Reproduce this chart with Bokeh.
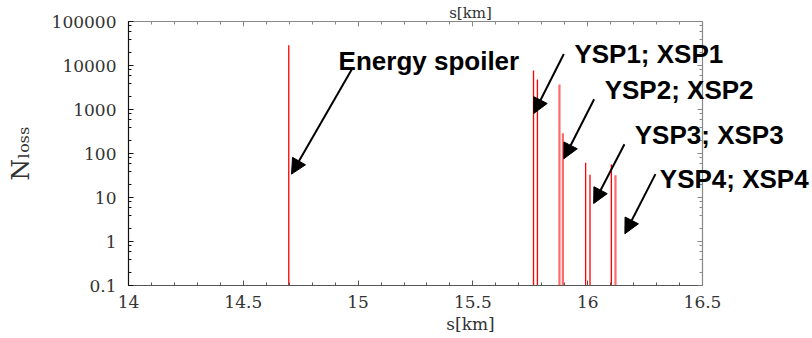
from bokeh.embed import file_html
from bokeh.models import (Arrow, CustomJSTickFormatter, Label, LinearAxis, LogAxis,
                          LogTicker, NormalHead, Range1d, SingleIntervalTicker)
from bokeh.plotting import figure
from bokeh.resources import INLINE

# Beam losses along the line (s in km, losses per element)
red_s = [14.698, 15.764, 15.781, 15.991, 16.010, 16.103]
red_loss = [29000, 7700, 4800, 62, 33, 56]
light_s = [15.877, 15.892, 16.121]
light_loss = [3700, 290, 32]

# Callouts: text anchor, arrow start and arrow tip (data coordinates)
callout_text = ["Energy spoiler", "YSP1; XSP1", "YSP2; XSP2", "YSP3; XSP3", "YSP4; XSP4"]
callout_s = [14.915, 15.942, 16.074, 16.205, 16.314]
callout_n = [12500, 18000, 2735, 268, 26]
arrow_from_s = [14.974, 15.896, 16.028, 16.160, 16.295]
arrow_from_n = [8390, 18300, 1713, 162, 34]
arrow_to_s = [14.710, 15.765, 15.896, 16.026, 16.162]
arrow_to_n = [34, 811, 76, 7.3, 1.5]

s_min, s_max = 14.0, 16.5
n_min, n_max = 0.1, 1e5
x_ticks_interval = 0.5
serif = "DejaVu Serif"
sans = "Liberation Sans"

# The frame runs to the right edge of the canvas so the callout texts can
# spill past the right axis; the right axis itself sits at s_max.
W, H = 812, 338
left_b, right_gap, top_b, bottom_b = 128, 110, 19, 53
axis_px = W - left_b - right_gap
s_view_end = s_min + (s_max - s_min) * (W - left_b) / axis_px

p = figure(width=W, height=H, y_axis_type="log",
           x_range=Range1d(s_min, s_view_end), y_range=Range1d(n_min, n_max),
           output_backend="svg", toolbar_location=None,
           min_border_left=left_b, min_border_right=0,
           min_border_top=top_b, min_border_bottom=bottom_b)
p.outline_line_color = None
p.grid.visible = False
p.background_fill_color = "white"
p.border_fill_color = "white"


def style_axis(ax, col):
    ax.axis_line_color = col
    ax.major_tick_line_color = col
    ax.minor_tick_line_color = col
    ax.axis_line_width = 1.2
    ax.major_tick_in = 5
    ax.major_tick_out = 0
    ax.minor_tick_in = 3
    ax.minor_tick_out = 0


# bottom axis
xa = p.xaxis[0]
xa.bounds = (s_min, s_max)
xa.ticker = SingleIntervalTicker(interval=x_ticks_interval, num_minor_ticks=5)
xa.formatter = CustomJSTickFormatter(code="return (Math.round(tick*10)/10).toString();")
xa.axis_label = "s[km]"
xa.axis_label_standoff = 3
# left axis
ya = p.yaxis[0]
ya.ticker = LogTicker()
ya.formatter = CustomJSTickFormatter(
    code="return tick < 1 ? tick.toFixed(1) : Math.round(tick).toString();")
ya.axis_label = "N\u2097\u2092\u209b\u209b"
ya.axis_label_standoff = 14

for ax, col in ((xa, "#555555"), (ya, "#111111")):
    style_axis(ax, col)
    ax.major_label_text_font = serif
    ax.major_label_text_font_size = "17px"
    ax.major_label_text_color = "#333333"
    ax.axis_label_text_font = serif
    ax.axis_label_text_font_style = "normal"
    ax.axis_label_text_font_size = "17px"
    ax.axis_label_text_color = "#333333"
xa.major_label_standoff = 10
ya.major_label_standoff = 12
ya.axis_label_text_font_size = "25px"

# mirrored top axis (with the repeated s title) and right axis pinned at s_max
top = LinearAxis(ticker=SingleIntervalTicker(interval=x_ticks_interval, num_minor_ticks=5),
                 formatter=CustomJSTickFormatter(code="return '';"),
                 bounds=(s_min, s_max), axis_label="s[km]")
style_axis(top, "#888888")
top.major_label_text_font_size = "1px"
top.major_label_standoff = 0
top.axis_label_standoff = 0
top.axis_label_text_font = serif
top.axis_label_text_font_style = "normal"
top.axis_label_text_font_size = "15px"
top.axis_label_text_color = "#333333"
p.add_layout(top, "above")

right = LogAxis(ticker=LogTicker(), formatter=CustomJSTickFormatter(code="return '';"),
                fixed_location=s_max)
style_axis(right, "#888888")
right.major_label_text_font_size = "1px"
right.major_label_standoff = 0
p.add_layout(right, "right")

# loss lines
p.segment(x0=red_s, y0=[n_min] * len(red_s), x1=red_s, y1=red_loss,
          line_color="#ff0000", line_width=1.3)
p.segment(x0=light_s, y0=[n_min] * len(light_s), x1=light_s, y1=light_loss,
          line_color="#ff6a6a", line_width=2.2)

# callouts
for t, cs, cn, fs, fn, ts, tn in zip(callout_text, callout_s, callout_n,
                                     arrow_from_s, arrow_from_n, arrow_to_s, arrow_to_n):
    p.add_layout(Arrow(x_start=fs, y_start=fn, x_end=ts, y_end=tn,
                       line_color="black", line_width=2,
                       end=NormalHead(size=15, fill_color="black", line_color="black")))
    p.add_layout(Label(x=cs, y=cn, text=t, text_font=sans, text_font_style="bold",
                       text_font_size="26px", text_color="black",
                       text_align="left", text_baseline="alphabetic"))

open("out.html", "w").write(file_html(p, INLINE))
